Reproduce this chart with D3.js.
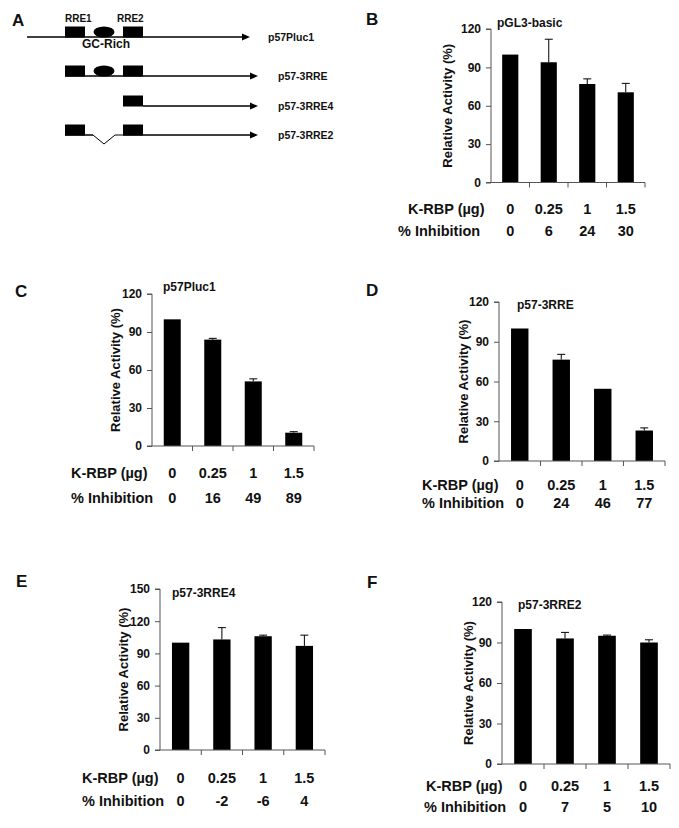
<!DOCTYPE html>
<html>
<head>
<meta charset="utf-8">
<script src="https://cdn.jsdelivr.net/npm/d3@7"></script>
<style>
  body { margin: 0; background: #fff; }
  text { font-family: "Liberation Sans", Arial, sans-serif; font-weight: bold; fill: #111; }
</style>
</head>
<body>
<div id="fig"></div>
<script>
// --- data ---
var doses = ["0", "0.25", "1", "1.5"];

var valuesB = [100, 94, 77, 70.5];
var errorsB = [0, 18, 4, 7];
var inhibB  = ["0", "6", "24", "30"];

var valuesC = [100, 84, 51, 10.5];
var errorsC = [0, 1, 2, 0.8];
var inhibC  = ["0", "16", "49", "89"];

var valuesD = [100, 76.5, 54.5, 23];
var errorsD = [0, 4, 0, 2];
var inhibD  = ["0", "24", "46", "77"];

var valuesE = [100, 103, 106, 97];
var errorsE = [0, 11, 1, 10];
var inhibE  = ["0", "-2", "-6", "4"];

var valuesF = [100, 93, 95, 90];
var errorsF = [0, 4.5, 0.5, 2];
var inhibF  = ["0", "7", "5", "10"];

var ticks120 = [0, 30, 60, 90, 120];
var ticks150 = [0, 30, 60, 90, 120, 150];

// panel A schematic
var constructNames = ["p57Pluc1", "p57-3RRE", "p57-3RRE4", "p57-3RRE2"];
var constructParts = [["RRE1", "GC", "RRE2"], ["RRE1", "GC", "RRE2"], ["RRE2"], ["RRE1", "del", "RRE2"]];

var W = 679, H = 828;
var svg = d3.select("#fig").append("svg")
  .attr("width", W)
  .attr("height", H);

// panel letters
var letters = [["A", 12, 26], ["B", 366, 25], ["C", 15, 297], ["D", 366, 296], ["E", 16, 587], ["F", 367, 588]];
svg.selectAll(".letter").data(letters).enter()
  .append("text")
  .attr("class", "letter")
  .attr("x", d => d[1])
  .attr("y", d => d[2])
  .style("font-size", "17px")
  .text(d => d[0]);

// ================= panel A =================
var gA = svg.append("g");
var rowY = [37, 76, 106, 135];
var lineStart = [27, 65, 143, 65];
var arrowEnd = [250, 258, 258, 258];
var rre1 = [65, 85], rre2 = [123, 143], gcX = 104;

gA.append("text").attr("x", 65).attr("y", 22).style("font-size", "10px").text("RRE1");
gA.append("text").attr("x", 117).attr("y", 22).style("font-size", "10px").text("RRE2");
gA.append("text").attr("x", 82).attr("y", 48).style("font-size", "12px").text("GC-Rich");

constructNames.forEach(function(name, i) {
  var y = rowY[i];
  var parts = constructParts[i];
  if (parts.indexOf("del") >= 0) {
    gA.append("line").attr("x1", rre1[0]).attr("x2", 93).attr("y1", y).attr("y2", y)
      .attr("stroke", "#000").attr("stroke-width", 1.5);
    gA.append("polyline")
      .attr("points", [[93, y], [104, y + 9], [115, y], [rre2[0], y]].join(" "))
      .attr("fill", "none").attr("stroke", "#000").attr("stroke-width", 1);
    gA.append("line").attr("x1", rre2[0]).attr("x2", arrowEnd[i] - 6).attr("y1", y).attr("y2", y)
      .attr("stroke", "#000").attr("stroke-width", 1.5);
  } else {
    gA.append("line").attr("x1", lineStart[i]).attr("x2", arrowEnd[i] - 6).attr("y1", y).attr("y2", y)
      .attr("stroke", "#000").attr("stroke-width", 1.5);
  }
  gA.append("path")
    .attr("d", "M" + arrowEnd[i] + "," + y + "L" + (arrowEnd[i] - 8) + "," + (y - 3.5) + "L" + (arrowEnd[i] - 8) + "," + (y + 3.5) + "Z")
    .attr("fill", "#000");
  parts.forEach(function(p) {
    if (p === "RRE1" || p === "RRE2") {
      var bx = p === "RRE1" ? rre1 : rre2;
      gA.append("rect").attr("x", bx[0]).attr("y", y - 10.5).attr("width", bx[1] - bx[0]).attr("height", 11).attr("fill", "#000");
    } else if (p === "GC") {
      gA.append("ellipse").attr("cx", gcX).attr("cy", y - 5).attr("rx", 10.5).attr("ry", 5.5).attr("fill", "#000");
    }
  });
  gA.append("text").attr("x", i === 0 ? 268 : 278).attr("y", y + 4)
    .style("font-size", "10.5px").text(name);
});

// ================= bar panels =================
function barPanel(opt) {
  var g = svg.append("g");
  var x = d3.scaleBand()
    .domain(doses)
    .range([opt.x0, opt.x1])
    .paddingInner(0.58)
    .paddingOuter(0.29);
  var y = d3.scaleLinear()
    .domain([0, opt.ymax])
    .range([opt.y0, opt.yTop]);

  // bars
  g.selectAll(".bar").data(opt.values).enter()
    .append("rect")
    .attr("x", (d, i) => x(doses[i]))
    .attr("width", x.bandwidth())
    .attr("y", d => y(d))
    .attr("height", d => y(0) - y(d))
    .attr("fill", "#000");

  // error bars
  opt.values.forEach(function(v, i) {
    if (!opt.errors[i]) return;
    var cx = x(doses[i]) + x.bandwidth() / 2;
    g.append("line").attr("x1", cx).attr("x2", cx)
      .attr("y1", y(v)).attr("y2", y(v + opt.errors[i]))
      .attr("stroke", "#000").attr("stroke-width", 1);
    g.append("line").attr("x1", cx - 4).attr("x2", cx + 4)
      .attr("y1", y(v + opt.errors[i])).attr("y2", y(v + opt.errors[i]))
      .attr("stroke", "#000").attr("stroke-width", 1);
  });

  // y axis
  var ya = g.append("g")
    .attr("transform", "translate(" + opt.x0 + ",0)")
    .call(d3.axisLeft(y).tickValues(opt.ticks).tickSize(5).tickPadding(5).tickFormat(d3.format("d")));
  ya.select(".domain").attr("stroke", "#555").attr("d", "M-5," + y(opt.ymax) + "H0V" + y(0) + "H-5");
  ya.selectAll(".tick line").attr("stroke", "#555");
  ya.selectAll(".tick text")
    .style("font-family", "'Liberation Sans', Arial, sans-serif")
    .style("font-weight", "bold")
    .style("font-size", "12px")
    .attr("fill", "#111");

  // x axis with ticks at category boundaries
  g.append("line").attr("x1", opt.x0).attr("x2", opt.x1)
    .attr("y1", y(0)).attr("y2", y(0)).attr("stroke", "#555");
  var bounds = doses.map(d => x(d) - (x.step() - x.bandwidth()) / 2).concat([opt.x1]);
  g.selectAll(".xt").data(bounds.slice(1)).enter()
    .append("line")
    .attr("x1", d => d).attr("x2", d => d)
    .attr("y1", y(0)).attr("y2", y(0) + 5)
    .attr("stroke", "#555");

  // y axis title
  g.append("text")
    .attr("transform", "translate(" + opt.titleX + "," + (opt.yTop + opt.y0) / 2 + ") rotate(-90)")
    .attr("text-anchor", "middle")
    .attr("dy", "0.35em")
    .style("font-size", "13px")
    .text("Relative Activity (%)");

  // panel title
  g.append("text").attr("x", opt.nameX).attr("y", opt.nameY)
    .style("font-size", "12px").text(opt.name);

  // dose and inhibition rows
  g.append("text").attr("x", opt.rowX1).attr("y", opt.row1)
    .style("font-size", "14.5px").text("K-RBP (\u00b5g)");
  g.append("text").attr("x", opt.rowX2).attr("y", opt.row2)
    .style("font-size", "14.5px").text("% Inhibition");
  g.selectAll(".dose").data(doses).enter()
    .append("text")
    .attr("x", d => x(d) + x.bandwidth() / 2)
    .attr("y", opt.row1)
    .attr("text-anchor", "middle")
    .style("font-size", "14.5px")
    .text(d => d);
  g.selectAll(".inh").data(opt.inhib).enter()
    .append("text")
    .attr("x", (d, i) => x(doses[i]) + x.bandwidth() / 2)
    .attr("y", opt.row2)
    .attr("text-anchor", "middle")
    .style("font-size", "14.5px")
    .text(d => d);
}

barPanel({ values: valuesB, errors: errorsB, inhib: inhibB, ticks: ticks120, ymax: 120,
  x0: 491, x1: 645, yTop: 29, y0: 182.5, titleX: 447, name: "pGL3-basic", nameX: 497, nameY: 27,
  rowX1: 408, rowX2: 398, row1: 214, row2: 236 });

barPanel({ values: valuesC, errors: errorsC, inhib: inhibC, ticks: ticks120, ymax: 120,
  x0: 152, x1: 314, yTop: 294, y0: 446, titleX: 115, name: "p57Pluc1", nameX: 163, nameY: 291,
  rowX1: 71, rowX2: 71, row1: 478, row2: 503 });

barPanel({ values: valuesD, errors: errorsD, inhib: inhibD, ticks: ticks120, ymax: 120,
  x0: 499, x1: 665, yTop: 302, y0: 461, titleX: 463, name: "p57-3RRE", nameX: 517, nameY: 309,
  rowX1: 422, rowX2: 422, row1: 490, row2: 508 });

barPanel({ values: valuesE, errors: errorsE, inhib: inhibE, ticks: ticks150, ymax: 150,
  x0: 160, x1: 325, yTop: 589, y0: 750, titleX: 123, name: "p57-3RRE4", nameX: 172, nameY: 597,
  rowX1: 82, rowX2: 82, row1: 783, row2: 806 });

barPanel({ values: valuesF, errors: errorsF, inhib: inhibF, ticks: ticks120, ymax: 120,
  x0: 502, x1: 670, yTop: 602, y0: 764, titleX: 468, name: "p57-3RRE2", nameX: 518, nameY: 609,
  rowX1: 426, rowX2: 424, row1: 791, row2: 812 });
</script>
</body>
</html>
